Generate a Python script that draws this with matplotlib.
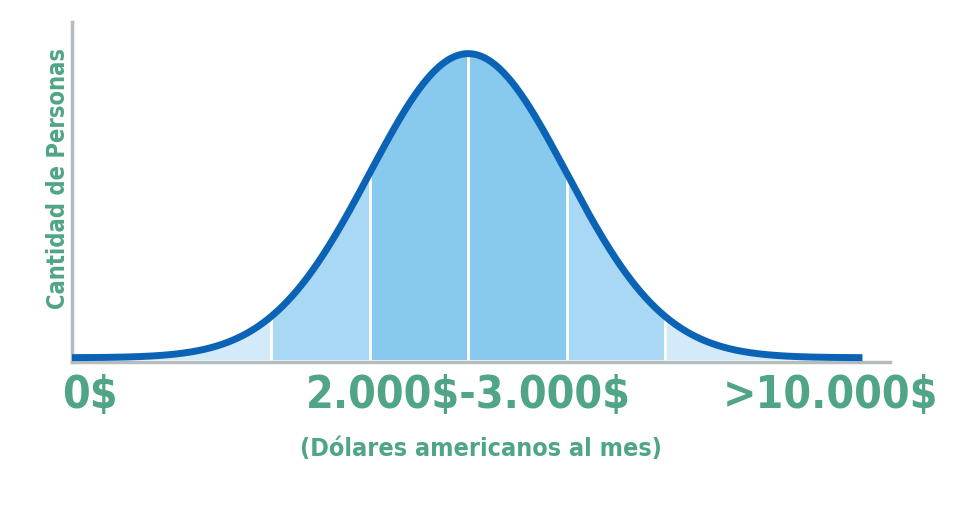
import numpy as np
import matplotlib.pyplot as plt

# bell curve (in sigma units, peak height = 1)
mean = 0.0
sigma = 1.0
curve_start = -4.02
curve_end = 4.0
band_edges = [-2.0, -1.0, 0.0, 1.0, 2.0]
band_colors = ['#d2eaf9', '#a9d8f5', '#88c9ee', '#88c9ee', '#a9d8f5', '#d2eaf9']
tick_positions = [-3.84, 0.0, 3.68]
tick_labels = [r'0\$', r'2.000\$-3.000\$', r'>10.000\$']
x_label = '(Dólares americanos al mes)'
y_label = 'Cantidad de Personas'

green = '#4fa585'
line_blue = '#0b63b6'
axis_gray = '#b4bcc0'
txt = dict(family='DejaVu Sans', fontstretch='condensed', fontweight='bold', color=green)

fig = plt.figure(figsize=(9.64, 5.09), dpi=100)
ax = fig.add_axes([72 / 964, 1 - 362 / 509, (890 - 72) / 964, (362 - 22) / 509])

x = np.linspace(curve_start, curve_end, 800)
y = np.exp(-0.5 * ((x - mean) / sigma) ** 2) + 0.006

# shaded bands
edges = [curve_start] + band_edges + [curve_end]
for i in range(len(edges) - 1):
    m = (x >= edges[i]) & (x <= edges[i + 1])
    ax.fill_between(x[m], 0, y[m], color=band_colors[i], lw=0, zorder=1)

# white separators
for e in band_edges:
    h = np.exp(-0.5 * ((e - mean) / sigma) ** 2)
    ax.plot([e, e], [0, h], color='white', lw=2, zorder=2)

ax.plot(x, y, color=line_blue, lw=5, solid_capstyle='butt', zorder=3)

ax.set_xlim(curve_start, 4.28)
ax.set_ylim(-0.008, 1.11)

for s in ['top', 'right']:
    ax.spines[s].set_visible(False)
for s in ['left', 'bottom']:
    ax.spines[s].set_color(axis_gray)
    ax.spines[s].set_linewidth(2.5)

ax.set_yticks([])
ax.set_xticks(tick_positions)
ax.set_xticklabels(tick_labels, fontsize=32, **txt)
ax.tick_params(axis='x', length=0, pad=9)

ax.set_xlabel(x_label, fontsize=18, labelpad=14, **txt)
ax.set_ylabel(y_label, fontsize=17, **txt)
ax.yaxis.set_label_coords(-0.002, 0.54)

fig.savefig('out.png', dpi=100, facecolor='white')
